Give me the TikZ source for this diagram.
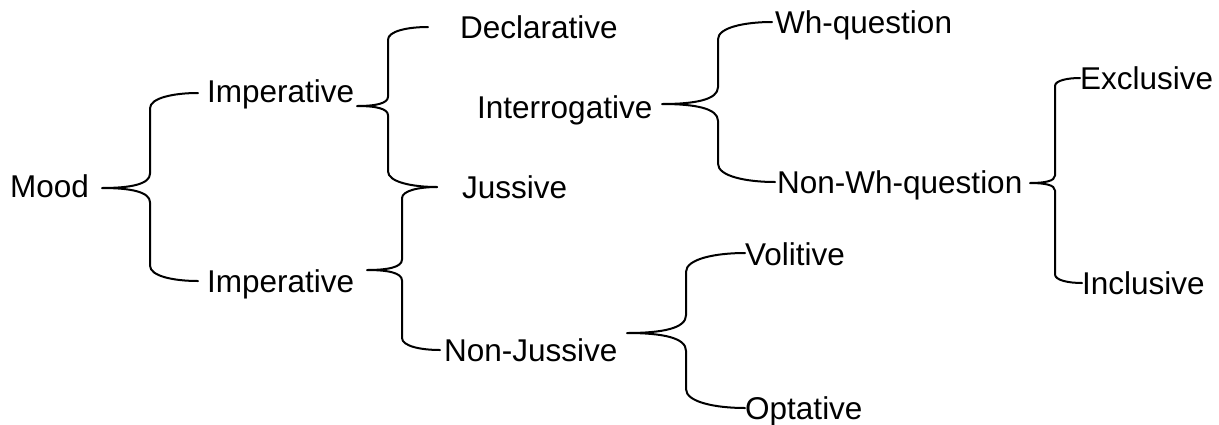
\documentclass[tikz,border=0pt]{standalone}
\usepackage{fontspec}
\setmainfont{Liberation Sans}
\usetikzlibrary{calc}
\newcommand\bracelink[4]{%
 \draw[brace] let \p1=(#1), \p2=(#2), \p3=(#3),
   \n1={#4pt-\x1}, \n2={\x2-#4pt}, \n3={\x3-#4pt} in
  (\p2) .. controls ({#4pt+0.5*\n2},\y2) and (#4pt,{\y2-0.1*\n2}) .. (#4pt,{\y2-0.32*\n2})
  -- (#4pt,{\y1+0.3*\n1})
  .. controls (#4pt,{\y1+0.08*\n1}) and ({#4pt-0.4*\n1},\y1) .. (\p1)
  .. controls ({#4pt-0.4*\n1},\y1) and (#4pt,{\y1-0.08*\n1}) .. (#4pt,{\y1-0.3*\n1})
  -- (#4pt,{\y3+0.32*\n3})
  .. controls (#4pt,{\y3+0.1*\n3}) and ({#4pt+0.5*\n3},\y3) .. (\p3);}
\begin{document}
\begin{tikzpicture}[x=1pt,y=-1pt,
  lbl/.style={anchor=base west, inner sep=0pt, font=\fontsize{31.5}{31.5}\selectfont},
  brace/.style={line width=2pt, line join=round, line cap=round}]
\useasboundingbox (0,0) rectangle (1219,424);
\node[lbl] (mood) at (10,197) {Mood};
\node[lbl] (imp1) at (207,102) {Imperative};
\node[lbl] (imp2) at (207,292) {Imperative};
\node[lbl] (decl) at (460,38) {Declarative};
\node[lbl] (inter) at (477,118) {Interrogative};
\node[lbl] (juss) at (462,198) {Jussive};
\node[lbl] (nonjuss) at (444,361) {Non-Jussive};
\node[lbl] (wh) at (775,33) {Wh-question};
\node[lbl] (nonwh) at (777,193) {Non-Wh-question};
\node[lbl] (excl) at (1080,89) {Exclusive};
\node[lbl] (incl) at (1082,294) {Inclusive};
\node[lbl] (vol) at (745,265) {Volitive};
\node[lbl] (opt) at (745,419) {Optative};
% brace points
\coordinate (m-tip) at (102,188);
\coordinate (m-top) at (198,93);
\coordinate (m-bot) at (198,281);
\coordinate (i1-tip) at (357,106);
\coordinate (i1-top) at (428,27);
\coordinate (i1-bot) at (437,187);
\coordinate (i2-tip) at (367,270);
\coordinate (i2-top) at (437,187);
\coordinate (i2-bot) at (440,350);
\coordinate (q-tip) at (662,104);
\coordinate (q-top) at (772,22);
\coordinate (q-bot) at (775,182);
\coordinate (n-tip) at (1030,183);
\coordinate (n-top) at (1080,78);
\coordinate (n-bot) at (1082,283);
\coordinate (j-tip) at (627,333);
\coordinate (j-top) at (745,253);
\coordinate (j-bot) at (745,408);
\bracelink{m-tip}{m-top}{m-bot}{150}
\bracelink{i1-tip}{i1-top}{i1-bot}{388}
\bracelink{i2-tip}{i2-top}{i2-bot}{402}
\bracelink{q-tip}{q-top}{q-bot}{718}
\bracelink{n-tip}{n-top}{n-bot}{1055}
\bracelink{j-tip}{j-top}{j-bot}{686}
\end{tikzpicture}
\end{document}
